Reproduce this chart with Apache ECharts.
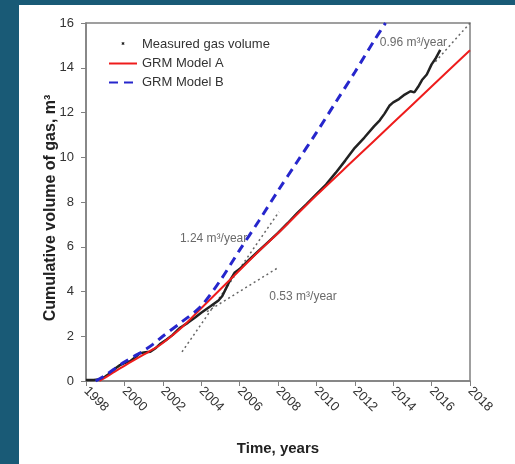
<!DOCTYPE html>
<html>
<head>
<meta charset="utf-8">
<script src="https://cdn.jsdelivr.net/npm/echarts@6/dist/echarts.min.js"></script>
<style>
  html, body { margin: 0; padding: 0; background: #195a76; width: 515px; height: 464px; overflow: hidden; }
  #chart { position: absolute; left: 19px; top: 5px; width: 496px; height: 459px; background: #fff; }
</style>
</head>
<body>
<div id="chart"></div>
<script>
// measured cumulative gas volume [year, m3]
var measured = [
  [1998.0, 0.05], [1998.4, 0.05], [1998.75, 0.08], [1999.0, 0.2], [1999.25, 0.34],
  [1999.5, 0.55], [1999.77, 0.71], [2000.0, 0.8], [2000.3, 0.88], [2000.55, 1.05],
  [2000.8, 1.24], [2001.1, 1.28], [2001.35, 1.31], [2001.6, 1.45], [2001.85, 1.65],
  [2002.2, 1.85], [2002.5, 2.05], [2002.9, 2.38], [2003.3, 2.6], [2003.7, 2.85],
  [2004.0, 3.05], [2004.5, 3.35], [2004.9, 3.6], [2005.1, 3.8], [2005.3, 4.15],
  [2005.5, 4.5], [2005.75, 4.85], [2006.0, 5.0], [2006.5, 5.42], [2007.0, 5.82],
  [2007.5, 6.22], [2008.0, 6.62], [2008.5, 7.05], [2009.0, 7.5], [2009.5, 7.92],
  [2010.0, 8.35], [2010.5, 8.78], [2011.0, 9.3], [2011.5, 9.85], [2012.0, 10.42],
  [2012.5, 10.88], [2013.0, 11.38], [2013.3, 11.65], [2013.55, 11.95],
  [2013.8, 12.3], [2014.0, 12.45], [2014.3, 12.6], [2014.6, 12.8], [2014.9, 12.95],
  [2015.1, 12.9], [2015.3, 13.15], [2015.5, 13.45], [2015.75, 13.7], [2016.0, 14.15],
  [2016.2, 14.4], [2016.45, 14.8]
];
var modelA = [
  [1998.7, 0], [1999.0, 0.15], [1999.5, 0.42], [2000.0, 0.68], [2000.5, 0.93],
  [2001.0, 1.18], [2001.5, 1.42], [2002.0, 1.7], [2003.0, 2.4], [2004.0, 3.25],
  [2005.0, 4.1], [2006.0, 4.95], [2007.0, 5.8], [2008.0, 6.6], [2009.0, 7.45],
  [2010.0, 8.3], [2012.0, 9.92], [2014.0, 11.54], [2016.0, 13.16], [2018.0, 14.78]
];
var modelB = [
  [1998.5, 0], [1999.0, 0.25], [1999.5, 0.55], [2000.0, 0.85], [2000.5, 1.1],
  [2001.0, 1.35], [2001.5, 1.65], [2002.0, 2.0], [2003.0, 2.65], [2004.0, 3.35],
  [2005.0, 4.5], [2006.0, 5.85], [2007.0, 7.15], [2008.0, 8.5], [2009.0, 9.8],
  [2010.0, 11.1], [2011.0, 12.45], [2012.0, 13.8], [2013.0, 15.2], [2013.6, 16]
];
// fitted trend lines
var trend124 = [[2003.0, 1.3], [2008.05, 7.56]];
var trend053 = [[2004.3, 3.1], [2008.05, 5.09]];
var trend096 = [[2016.2, 14.27], [2018.0, 16.0]];
// annotation anchors [year, m3, text, side]
var notes = [
  [2006.4, 6.38, '1.24 m³/year', 'left'],
  [2007.55, 3.75, '0.53 m³/year', 'right'],
  [2013.3, 15.13, '0.96 m³/year', 'right']
];
var yearTicks = { min: 1998, max: 2018, step: 2 };
var volTicks = { min: 0, max: 16, step: 2 };

var chart = echarts.init(document.getElementById('chart'));

var crossIcon = 'path://M0,0h0.05v0.05h-0.05Z M27.95,13.95h0.05v0.05h-0.05Z ' +
  'M12.5,5.5L13.5,5L14,6L14.5,5L15.5,5.5L15,6.5L15.5,7.5L14.5,8L14,7L13.5,8L12.5,7.5L13,6.5Z';

function trendSeries(name, data) {
  return {
    name: name,
    type: 'line',
    data: data,
    symbol: 'none',
    silent: true,
    lineStyle: { color: '#666', width: 1.5, type: [2, 3] },
    z: 1
  };
}

chart.setOption({
  animation: false,
  textStyle: { fontFamily: 'Liberation Sans, Arial, sans-serif' },
  grid: {
    left: 67, right: 45, top: 18, bottom: 83,
    show: true, borderColor: '#808080', borderWidth: 1.5, backgroundColor: '#fff'
  },
  legend: {
    orient: 'vertical',
    left: 89, top: 32,
    padding: 0,
    itemWidth: 28, itemHeight: 14, itemGap: 6,
    textStyle: { fontSize: 13, color: '#333' },
    data: [
      { name: 'Measured gas volume', icon: crossIcon },
      { name: 'GRM Model A', itemStyle: { opacity: 0 } },
      { name: 'GRM Model B', itemStyle: { opacity: 0 } }
    ]
  },
  xAxis: {
    type: 'value',
    min: yearTicks.min, max: yearTicks.max, interval: yearTicks.step,
    name: 'Time, years',
    nameLocation: 'middle',
    nameGap: 60,
    nameTextStyle: { fontSize: 15, fontWeight: 'bold', color: '#222' },
    axisLine: { lineStyle: { color: '#808080', width: 1.5 } },
    axisTick: { length: 5, lineStyle: { color: '#808080' } },
    axisLabel: {
      rotate: -45, fontSize: 13, color: '#333', margin: 8,
      formatter: function (v) { return String(v); }
    },
    splitLine: { show: false }
  },
  yAxis: {
    type: 'value',
    min: volTicks.min, max: volTicks.max, interval: volTicks.step,
    name: 'Cumulative volume of gas, m³',
    nameLocation: 'middle',
    nameGap: 27,
    nameMoveOverlap: false,
    nameTextStyle: { fontSize: 16, fontWeight: 'bold', color: '#222', padding: [0, 12, 0, 0] },
    axisLine: { show: true, lineStyle: { color: '#808080', width: 1.5 } },
    axisTick: { show: true, length: 5, lineStyle: { color: '#808080' } },
    axisLabel: { fontSize: 13, color: '#333', margin: 12 },
    splitLine: { show: false }
  },
  series: [
    trendSeries('t124', trend124),
    trendSeries('t053', trend053),
    trendSeries('t096', trend096),
    {
      name: 'Measured gas volume',
      type: 'line',
      data: measured,
      symbol: 'none',
      lineStyle: { color: '#222', width: 2.5 },
      itemStyle: { color: '#222' },
      z: 3
    },
    {
      name: 'GRM Model A',
      type: 'line',
      data: modelA,
      symbol: 'none',
      smooth: 0.3,
      lineStyle: { color: '#ee1c1c', width: 2 },
      itemStyle: { color: '#ee1c1c' },
      z: 4
    },
    {
      name: 'GRM Model B',
      type: 'line',
      data: modelB,
      symbol: 'none',
      smooth: 0.3,
      lineStyle: { color: '#2626cc', width: 3, type: [9, 6] },
      itemStyle: { color: '#2626cc' },
      z: 5
    },
    {
      name: 'notes',
      type: 'scatter',
      symbolSize: 0,
      silent: true,
      data: notes.map(function (n) {
        return {
          value: [n[0], n[1]],
          label: { show: true, formatter: n[2], position: n[3], distance: 0 }
        };
      }),
      label: { fontSize: 12, color: '#444' },
      z: 6
    }
  ]
});
</script>
</body>
</html>
